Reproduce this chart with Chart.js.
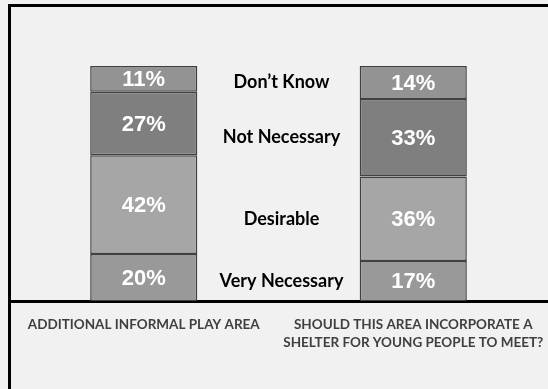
<!DOCTYPE html>
<html>
<head>
<meta charset="utf-8">
<script src="https://cdn.jsdelivr.net/npm/chart.js@4.4.1/dist/chart.umd.min.js"></script>
<style>
    html, body { margin: 0; padding: 0; background: #f1f1f1; overflow: hidden; }
    #wrap { width: 548px; height: 389px; }
</style>
</head>
<body>
<div id="wrap"><canvas id="surveyChart" width="548" height="389"></canvas></div>
<script>
// categories (bottom labels)
const categories = [
    'ADDITIONAL INFORMAL PLAY AREA',
    ['SHOULD THIS AREA INCORPORATE A', 'SHELTER FOR YOUNG PEOPLE TO MEET?']
];

// series, bottom to top of the stack
const seriesNames = [ 'Very Necessary', 'Desirable', 'Not Necessary', 'Don\u2019t Know' ];
const veryNecessary = [ 20, 17 ];
const desirable = [ 42, 36 ];
const notNecessary = [ 27, 33 ];
const dontKnow = [ 11, 14 ];

const seriesColors = [ '#999999', '#a6a6a6', '#7f7f7f', '#939393' ];

// frame, value labels and series names between the two bars
const labelPlugin = {
    id : 'labelPlugin',
    beforeDraw(chart) {
        const c = chart.ctx;
        c.save();
        c.strokeStyle = '#000';
        c.lineWidth = 3;
        c.beginPath();
        c.moveTo(8, 5.5);
        c.lineTo(chart.width, 5.5);
        c.moveTo(9.5, 4);
        c.lineTo(9.5, chart.height);
        c.stroke();
        c.restore();
    },
    afterDatasetsDraw(chart) {
        const c = chart.ctx;
        c.save();
        c.textAlign = 'center';
        c.textBaseline = 'middle';

        // percentages inside each segment
        c.fillStyle = '#ffffff';
        c.font = 'bold 22px "Liberation Sans", Arial, sans-serif';
        chart.data.datasets.forEach((ds, i) => {
            chart.getDatasetMeta(i).data.forEach((bar, j) => {
                const yMid = (bar.y + bar.base) / 2;
                c.fillText(ds.data[j] + '%', bar.x, yMid + 1);
            });
        });

        // series names, lined up with the right-hand bar's segments
        c.fillStyle = '#000000';
        c.font = 'bold 18px Lato, "Open Sans", sans-serif';
        chart.data.datasets.forEach((ds, i) => {
            const meta = chart.getDatasetMeta(i);
            const left = meta.data[0];
            const right = meta.data[1];
            const x = (left.x + right.x) / 2 + 3;
            const y = (right.y + right.base) / 2;
            c.fillText(ds.label, x, y);
        });
        c.restore();
    }
};

const ctx = document.getElementById('surveyChart').getContext('2d');
new Chart(ctx, {
    type : 'bar',
    data : {
        labels : categories,
        datasets : [ veryNecessary, desirable, notNecessary, dontKnow ].map((values, i) => ({
            label : seriesNames[i],
            data : values,
            backgroundColor : seriesColors[i],
            borderColor : '#404040',
            borderWidth : 1.5,
            borderSkipped : false,
            categoryPercentage : 0.8,
            barPercentage : 0.497
        }))
    },
    options : {
        responsive : false,
        animation : false,
        layout : {
            padding : { top : 66, left : 9, right : 0, bottom : 0 }
        },
        plugins : {
            legend : { display : false },
            tooltip : { enabled : false }
        },
        scales : {
            x : {
                stacked : true,
                grid : { display : false, drawTicks : false },
                border : { color : '#000000', width : 3 },
                ticks : {
                    color : '#3f3f3f',
                    padding : 15,
                    maxRotation : 0,
                    autoSkip : false,
                    font : {
                        family : 'Lato, "Open Sans", sans-serif',
                        weight : 'bold',
                        size : 13.5,
                        lineHeight : 1.3
                    }
                },
                afterFit : function(scale) {
                    scale.height = 88;
                    scale.paddingLeft = 0;
                    scale.paddingRight = 0;
                }
            },
            y : {
                stacked : true,
                display : false,
                min : 0,
                max : 100
            }
        }
    },
    plugins : [ labelPlugin ]
});
</script>
</body>
</html>
